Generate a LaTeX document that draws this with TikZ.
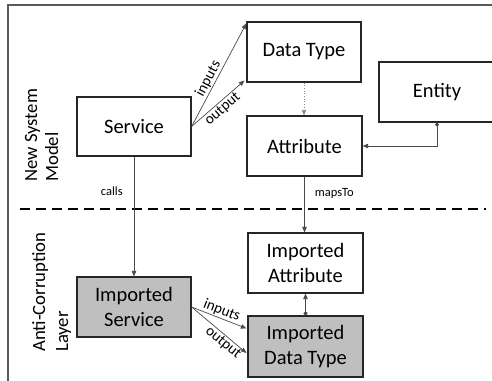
\documentclass[tikz,border=0pt]{standalone}
\usepackage{fontspec}
\setmainfont{Carlito}
\usetikzlibrary{arrows.meta,calc}

\definecolor{linegray}{HTML}{4A4A4A}
\definecolor{framegray}{HTML}{5A5A5A}
\definecolor{boxgray}{HTML}{BFBFBF}

\tikzset{
  box/.style={draw=black!85, line width=1.2pt, rectangle, inner sep=0pt,
    minimum width=114pt, minimum height=60pt, align=center,
    font=\fontsize{20.5}{25}\selectfont},
  graybox/.style={box, fill=boxgray},
  link/.style={draw=linegray, line width=0.7pt,
    -{Triangle[length=5.5pt,width=4.5pt]}},
  dotstart/.style={{Circle[length=4pt]}-{Triangle[length=5.5pt,width=4.5pt]}},
  rellabel/.style={font=\fontsize{15}{17}\selectfont, inner sep=1pt},
  smalllabel/.style={font=\fontsize{12.5}{14}\selectfont, inner sep=1pt},
  sidelabel/.style={rotate=90, align=left, inner sep=0pt,
    font=\fontsize{18.7}{21}\selectfont},
}

\begin{document}
\begin{tikzpicture}[x=1pt,y=1pt]
  \useasboundingbox (0,0) rectangle (492,380);
  \clip (0,0) rectangle (492,380);

  % outer frame
  \draw[framegray, line width=1.4pt] (8,375) rectangle (520,-20);

  % layer separator
  \draw[black, line width=2.4pt, dash pattern=on 10pt off 6pt] (20,171) -- (486,171);

  % layer captions (anchored on the baseline of the last line)
  \node[sidelabel, anchor=base west] (nsm) at (58,198) {New System\\Model};
  \node[sidelabel, anchor=base west, font=\fontsize{18.7}{23}\selectfont] (acl) at (68,28) {Anti-Corruption\\Layer};

  % new system model
  \node[box, minimum height=59pt] (svc) at (134,253.5) {Service};
  \node[box] (dt) at (304,328) {Data Type};
  \node[box, minimum width=115pt] (attr) at (304.5,234) {Attribute};
  \node[box, minimum width=116pt] (ent) at (437,288) {Entity};

  % anti-corruption layer
  \node[graybox] (isvc) at (134,73) {Imported\\Service};
  \node[box, minimum width=115pt] (iattr) at (305.5,117) {Imported\\Attribute};
  \node[graybox, minimum width=115pt, minimum height=61pt] (idt) at (305.5,33.5) {Imported\\Data Type};

  % relations in the new system model
  \draw[link] (svc.east) -- node[rellabel, sloped, above, pos=0.43] {inputs} ([yshift=-2pt]dt.north west);
  \draw[link] (svc.east) -- node[rellabel, sloped, below, pos=0.5] {output} ([xshift=-2pt,yshift=2pt]dt.south west);
  \draw[link, draw=black!45, dotted, line width=0.8pt] (dt.south) -- (dt.south |- attr.north);
  \draw[link, dotstart] (ent.south) |- (attr.east);

  % relations across the layers
  \draw[link] (svc.south) -- node[smalllabel, left=10pt, pos=0.29] {calls} (isvc.north);
  \draw[link] (attr.south) -- node[smalllabel, right=9pt, pos=0.3] {mapsTo} (attr.south |- iattr.north);

  % relations in the anti-corruption layer
  \draw[link] (isvc.east) -- node[rellabel, sloped, above, pos=0.5] {inputs} ([xshift=-1pt,yshift=-13pt]idt.north west);
  \draw[link] (isvc.east) -- node[rellabel, sloped, below, pos=0.66] {output} ([xshift=-1pt,yshift=-6.5pt]idt.west);
  \draw[link, dotstart] (idt.north) -- (iattr.south);
\end{tikzpicture}
\end{document}
